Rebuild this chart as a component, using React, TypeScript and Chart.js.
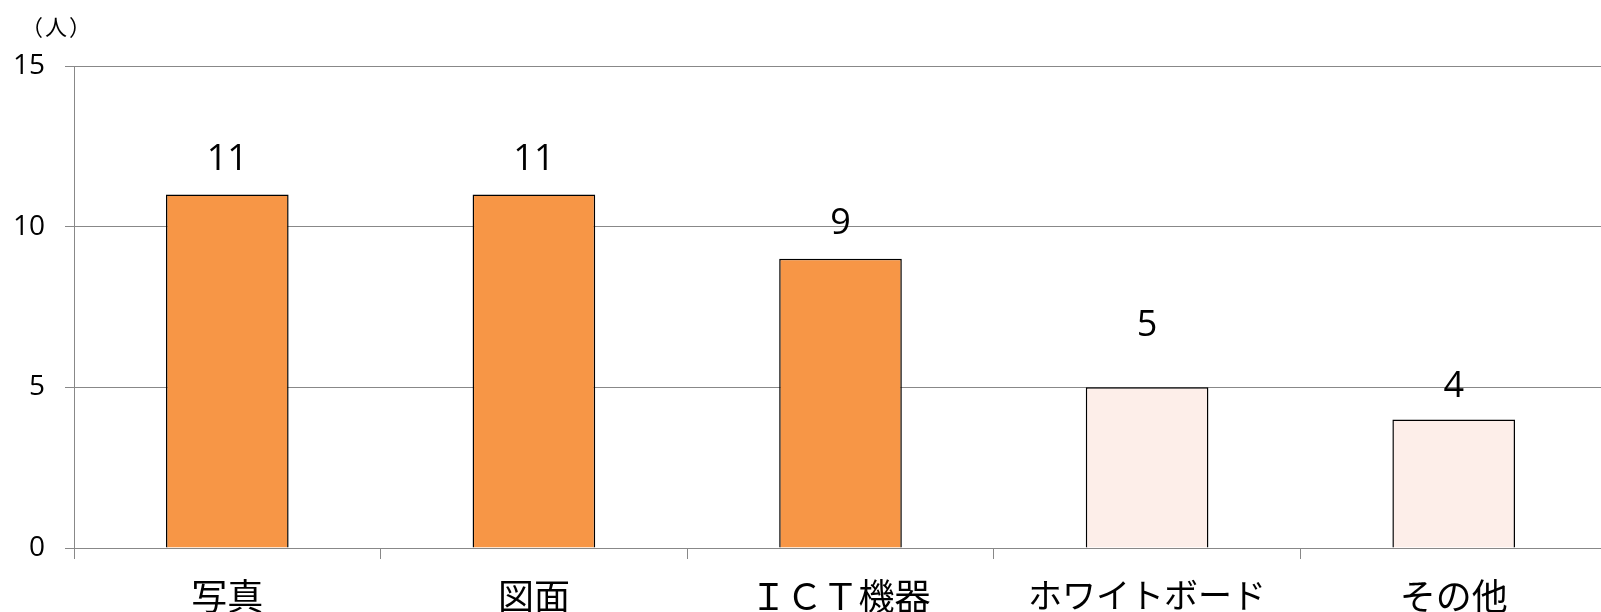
import { useEffect, useRef } from "react";
import { Chart, registerables } from "chart.js";

Chart.register(...registerables);

const categories = ["写真", "図面", "ＩＣＴ機器", "ホワイトボード", "その他"];
const values = [11, 11, 9, 5, 4];
const barColors = ["#F79646", "#F79646", "#F79646", "#FDEEE9", "#FDEEE9"];
const yMin = 0;
const yMax = 15;
const yStep = 5;
const unitLabel = ["（", "人", "）"];

export default function App() {
  const ref = useRef<HTMLCanvasElement>(null);

  useEffect(() => {
    if (!ref.current) return;
    const labelLift = [35, 35, 35, 62, 33];
    const labelPlugin = {
      id: "valueLabels",
      afterDatasetsDraw(chart: any) {
        const ctx = chart.ctx;
        const meta = chart.getDatasetMeta(0);
        ctx.save();
        ctx.fillStyle = "#000";
        ctx.font = "36px 'Open Sans'";
        ctx.textAlign = "center";
        ctx.textBaseline = "middle";
        meta.data.forEach((el: any, i: number) => {
          ctx.fillText(String(values[i]), el.x, el.y - labelLift[i]);
        });
        ctx.font = "22px 'Noto Sans CJK JP'";
        ctx.textAlign = "right";
        ctx.fillText(unitLabel[0], 43, 27);
        ctx.textAlign = "center";
        ctx.fillText(unitLabel[1], 56, 27);
        ctx.textAlign = "left";
        ctx.fillText(unitLabel[2], 69, 27);
        ctx.restore();
      },
    };

    const chart = new Chart(ref.current, {
      type: "bar",
      data: {
        labels: categories,
        datasets: [
          {
            data: values,
            backgroundColor: barColors,
            borderColor: "#000",
            borderWidth: 1.5,
            categoryPercentage: 1,
            barPercentage: 0.4,
          },
        ],
      },
      options: {
        animation: false,
        responsive: false,
        layout: { padding: { top: 66, right: 13, left: 0, bottom: 0 } },
        plugins: {
          legend: { display: false },
          tooltip: { enabled: false },
          title: { display: false },
        },
        scales: {
          x: {
            type: "category",
            offset: true,
            grid: {
              offset: true,
              drawOnChartArea: false,
              drawTicks: true,
              tickLength: 11,
              color: "#888",
              lineWidth: 1,
            },
            border: { color: "#888", width: 1 },
            ticks: {
              color: "#000",
              font: (c: any) => ({
                family: "'Noto Sans CJK JP'",
                size: c.index === 3 ? 34 : 36,
              }),
              padding: 16,
              maxRotation: 0,
              autoSkip: false,
            },
            afterFit: (scale: any) => {
              scale.height = 92;
            },
          },
          y: {
            min: yMin,
            max: yMax,
            grid: { color: "#888", lineWidth: 1, tickLength: 9 },
            border: { color: "#888", width: 1 },
            ticks: {
              stepSize: yStep,
              color: "#000",
              font: { family: "'Open Sans'", size: 28 },
              padding: 20,
            },
            afterFit: (scale: any) => {
              scale.width = 74;
            },
          },
        },
      },
      plugins: [labelPlugin],
    });
    return () => chart.destroy();
  }, []);

  return (
    <div
      style={{
        position: "fixed",
        left: 0,
        top: 0,
        width: 1601,
        height: 612,
        overflow: "hidden",
        background: "#fff",
      }}
    >
      <canvas ref={ref} width={1620} height={640} style={{ display: "block" }} />
    </div>
  );
}
